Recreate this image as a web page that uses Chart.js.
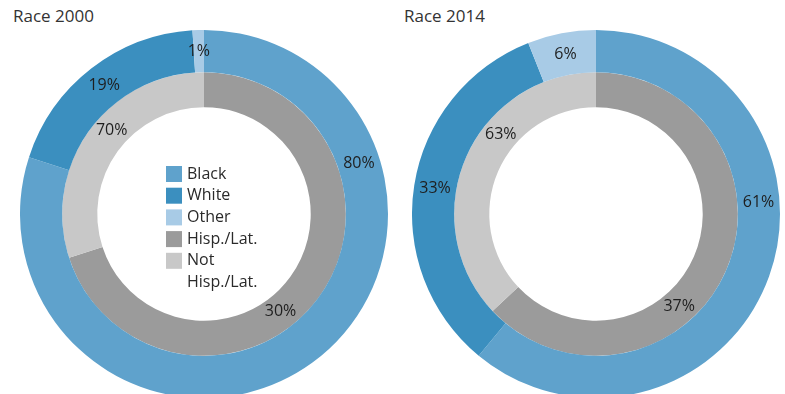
<!DOCTYPE html>
<html>
<head>
<meta charset="utf-8">
<script src="https://cdn.jsdelivr.net/npm/chart.js@4"></script>
<style>
  html, body { margin: 0; padding: 0; background: #fff; overflow: hidden; }
  body { width: 785px; height: 394px; position: relative; font-family: "Open Sans", sans-serif; }
  .title { position: absolute; top: 4px; font-size: 17px; color: #333; }
  canvas { position: absolute; }
</style>
</head>
<body>
<div class="title" style="left:13px">Race 2000</div>
<div class="title" style="left:404px">Race 2014</div>
<canvas id="chart2000" width="368" height="368" style="left:20px;top:30px"></canvas>
<canvas id="chart2014" width="368" height="368" style="left:412px;top:30px"></canvas>
<script>
const raceLabels = ['Black', 'White', 'Other'];
const ethnLabels = ['Hisp./Lat.', 'Not Hisp./Lat.'];

const race2000 = [80, 19, 1];
const race2014 = [61, 33, 6];
const ethn2000 = [70, 30];
const ethn2014 = [63, 37];

const raceColors = ['#5fa2cc', '#3b8fbf', '#a8cbe6'];
const ethnColors = ['#9b9b9b', '#c8c8c8'];

// percentage labels, drawn inside each ring; angle in degrees clockwise from top,
// null = middle of the slice
const pctLabels = {
  id: 'pctLabels',
  afterDatasetsDraw(chart, args, opts) {
    const ctx = chart.ctx;
    ctx.save();
    ctx.font = '16px "Open Sans", sans-serif';
    ctx.fillStyle = '#1e1e1e';
    ctx.textAlign = 'center';
    ctx.textBaseline = 'middle';
    chart.data.datasets.forEach((ds, di) => {
      const meta = chart.getDatasetMeta(di);
      meta.data.forEach((arc, i) => {
        const p = arc.getProps(['x', 'y', 'startAngle', 'endAngle', 'innerRadius', 'outerRadius'], true);
        let a = (p.startAngle + p.endAngle) / 2;
        const fixed = opts.angles[di][i];
        if (fixed !== null) a = fixed * Math.PI / 180 - Math.PI / 2;
        const r = (p.innerRadius + p.outerRadius) / 2;
        ctx.fillText(ds.data[i] + '%', p.x + Math.cos(a) * r, p.y + Math.sin(a) * r);
      });
    });
    ctx.restore();
  }
};

// legend in the hole of the first chart
const centerLegend = {
  id: 'centerLegend',
  afterDraw(chart, args, opts) {
    if (!opts.show) return;
    const ctx = chart.ctx;
    const items = [
      [raceLabels[0], raceColors[0]], [raceLabels[1], raceColors[1]], [raceLabels[2], raceColors[2]],
      [ethnLabels[0], ethnColors[0]], [ethnLabels[1], ethnColors[1]]
    ];
    const x = 146, y0 = 144, step = 21.7;
    ctx.save();
    ctx.font = '16px "Open Sans", sans-serif';
    ctx.textBaseline = 'middle';
    let row = 0;
    items.forEach(([text, color]) => {
      const y = y0 + row * step;
      ctx.fillStyle = color;
      ctx.fillRect(x, y - 8, 16, 16);
      ctx.fillStyle = '#2a2a2a';
      const words = text === 'Not Hisp./Lat.' ? ['Not', 'Hisp./Lat.'] : [text];
      words.forEach((w, k) => ctx.fillText(w, x + 21, y + k * step));
      row += words.length;
    });
    ctx.restore();
  }
};

function makeChart(id, race, ethn, angles, showLegend) {
  return new Chart(document.getElementById(id), {
    type: 'doughnut',
    data: {
      labels: raceLabels.concat(ethnLabels),
      datasets: [
        { data: race, backgroundColor: raceColors, borderWidth: 0, weight: 42 },
        { data: ethn, backgroundColor: ethnColors, borderWidth: 0, weight: 35 }
      ]
    },
    options: {
      responsive: false,
      animation: false,
      cutout: '58%',
      layout: { padding: 0 },
      plugins: {
        legend: { display: false },
        tooltip: { enabled: false },
        pctLabels: { angles },
        centerLegend: { show: showLegend }
      }
    },
    plugins: [pctLabels, centerLegend]
  });
}

makeChart('chart2000', race2000, ethn2000, [[72, null, null], [312, 142]], true);
makeChart('chart2014', race2014, ethn2014, [[86, null, null], [310, 138]], false);
</script>
</body>
</html>
